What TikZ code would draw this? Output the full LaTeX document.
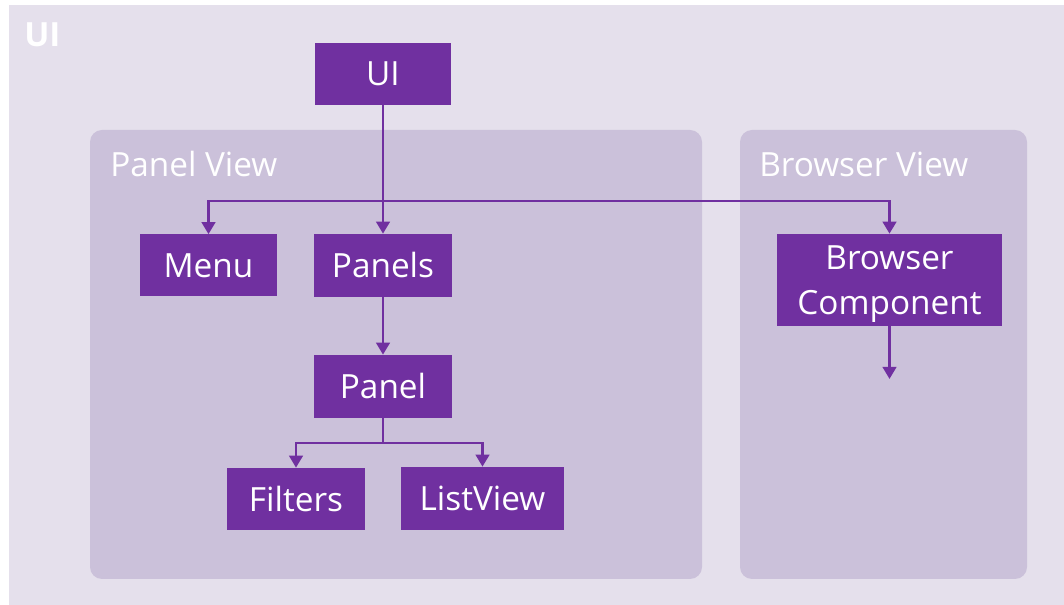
\documentclass[tikz,border=0pt]{standalone}
\usepackage{fontspec}
\setmainfont{Open Sans}
\usetikzlibrary{arrows.meta}
\definecolor{uipurple}{HTML}{7030A0}
\definecolor{uiback}{HTML}{E5E0EC}
\definecolor{viewback}{HTML}{CBC1DA}
\tikzset{
	part/.style={fill=uipurple, text=white, inner sep=0pt, align=center,
		font=\fontsize{25}{34}\selectfont},
	viewlabel/.style={anchor=base west, inner sep=0pt, text=white,
		font=\fontsize{25}{30}\selectfont},
	link/.style={draw=uipurple, line width=2.2pt, -{Triangle[width=10pt,length=9pt]}},
}

\begin{document}
\begin{tikzpicture}[x=0.75pt, y=-0.75pt]
		%%%%% START %%%%%
		
		\useasboundingbox (0, 0) rectangle (1064, 605);
		\fill[uiback] (9, 5) rectangle (1064, 605);
		\node[viewlabel, font=\fontsize{25}{30}\selectfont\bfseries] (uilabel) at (24, 47) {UI};
		
		\fill[viewback, rounded corners=9pt] (90, 130) rectangle (702, 579);
		\node[viewlabel] (panelviewlabel) at (110, 177) {Panel View};
		
		\fill[viewback, rounded corners=9pt] (740, 130) rectangle (1027, 579);
		\node[viewlabel] (browserviewlabel) at (759, 177) {Browser View};
		
		% sizes in pt (one pixel of the picture is 0.75pt)
		\node[part, minimum width=102pt, minimum height=46.5pt] (ui) at (383, 74) {UI};
		\node[part, minimum width=102.75pt, minimum height=46.5pt] (menu) at (208.5, 265.5) {Menu};
		\node[part, minimum width=103.5pt, minimum height=47.25pt] (panels) at (383, 265.5) {Panels};
		\node[part, minimum width=103.5pt, minimum height=47.25pt] (panel) at (383, 386.5) {Panel};
		\node[part, minimum width=103.5pt, minimum height=46.5pt] (filters) at (296, 499) {Filters};
		\node[part, minimum width=122.25pt, minimum height=47.25pt] (listview) at (482.5, 498.5) {ListView};
		\node[part, text depth=0pt, minimum width=168.75pt, minimum height=69pt] (browser) at (889.5, 280) {Browser\\Component};
		
		\coordinate (uisplit) at (383, 201);
		\coordinate (panelsplit) at (383, 443);
		\coordinate (browserout) at (889.5, 379);
		
		\draw[link] (ui.south) -- (panels.north);
		\draw[link] (uisplit) -| (menu.north);
		\draw[link] (uisplit) -| (browser.north);
		\draw[link] (panels.south) -- (panel.north);
		
		\draw[link, -] (panel.south) -- (panelsplit);
		\draw[link] (panelsplit) -| (filters.north);
		\draw[link] (panelsplit) -| (listview.north);
		
		\draw[link] (browser.south) -- (browserout);
		
		%%%%% END %%%%%
	\end{tikzpicture}
\end{document}
